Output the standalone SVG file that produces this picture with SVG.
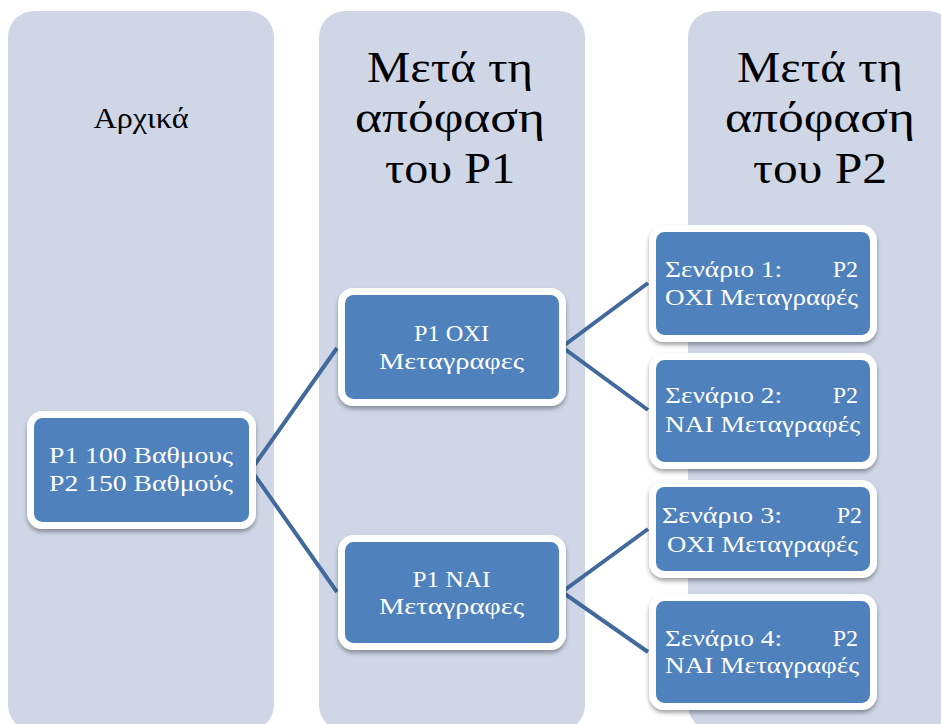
<svg xmlns="http://www.w3.org/2000/svg" width="941" height="724" viewBox="0 0 941 724">
<defs>
<style>
.col{fill:#CFD7E7;}
.box{fill:#4F81BD;stroke:#FFFFFF;stroke-width:7;filter:url(#sh);}
.nt{font-family:"Liberation Serif","DejaVu Serif",serif;font-size:24px;fill:#FFFFFF;}
.ht{font-family:"Liberation Serif","DejaVu Serif",serif;font-size:44px;fill:#000000;text-anchor:middle;}
.h1{font-family:"Liberation Serif","DejaVu Serif",serif;font-size:30px;fill:#000000;text-anchor:middle;}
.c{text-anchor:middle;}
.e{text-anchor:end;}
.ln{fill:none;stroke:#41699C;stroke-width:4;}
</style>
<filter id="sh" x="-10%" y="-10%" width="120%" height="130%">
<feDropShadow dx="0" dy="3" stdDeviation="2" flood-color="#000000" flood-opacity="0.35"/>
</filter>
</defs>
<rect width="941" height="724" fill="#FFFFFF"/>
<g id="columns">
<rect class="col" x="8" y="11" width="266" height="720" rx="26"/>
<rect class="col" x="319" y="11" width="266" height="720" rx="26"/>
<rect class="col" x="688" y="11" width="266" height="720" rx="26"/>
<text class="h1" x="141" y="128" textLength="95" lengthAdjust="spacingAndGlyphs">Αρχικά</text>
<text class="ht" x="450" y="82" textLength="166" lengthAdjust="spacingAndGlyphs">Μετά τη</text>
<text class="ht" x="450" y="132" textLength="190" lengthAdjust="spacingAndGlyphs">απόφαση</text>
<text class="ht" x="450" y="183" textLength="130" lengthAdjust="spacingAndGlyphs">του P1</text>
<text class="ht" x="820" y="82" textLength="166" lengthAdjust="spacingAndGlyphs">Μετά τη</text>
<text class="ht" x="820" y="132" textLength="190" lengthAdjust="spacingAndGlyphs">απόφαση</text>
<text class="ht" x="820" y="183" textLength="134" lengthAdjust="spacingAndGlyphs">του P2</text>
</g>
<g id="connectors">
<polyline class="ln" points="337,348 251,470 337,592"/>
<polyline class="ln" points="648,283 562,347 648,410"/>
<polyline class="ln" points="648,529 562,592 648,652"/>
</g>
<g id="start">
<rect class="box" x="30.5" y="414.5" width="222" height="111" rx="12"/>
<text class="nt c" x="141" y="463" textLength="184" lengthAdjust="spacingAndGlyphs">P1 100 Βαθμους</text>
<text class="nt c" x="141" y="491" textLength="184" lengthAdjust="spacingAndGlyphs">P2 150 Βαθμούς</text>
</g>
<g id="p1-oxi">
<rect class="box" x="341.5" y="291.5" width="221" height="111" rx="12"/>
<text class="nt c" x="451.5" y="341" textLength="75" lengthAdjust="spacingAndGlyphs">P1 ΟΧΙ</text>
<text class="nt c" x="451.5" y="369" textLength="145" lengthAdjust="spacingAndGlyphs">Μεταγραφες</text>
</g>
<g id="p1-nai">
<rect class="box" x="341.5" y="538.5" width="221" height="108" rx="12"/>
<text class="nt c" x="451.5" y="587" textLength="78" lengthAdjust="spacingAndGlyphs">P1 ΝΑΙ</text>
<text class="nt c" x="451.5" y="614" textLength="145" lengthAdjust="spacingAndGlyphs">Μεταγραφες</text>
</g>
<g id="scenario-1">
<rect class="box" x="652.5" y="228.5" width="221" height="110" rx="12"/>
<text class="nt" x="665" y="277" textLength="117" lengthAdjust="spacingAndGlyphs">Σενάριο 1:</text>
<text class="nt e" x="858" y="277">P2</text>
<text class="nt" x="665" y="305" textLength="193" lengthAdjust="spacingAndGlyphs">ΟΧΙ Μεταγραφές</text>
</g>
<g id="scenario-2">
<rect class="box" x="652.5" y="356.5" width="221" height="109" rx="12"/>
<text class="nt" x="665" y="403" textLength="117" lengthAdjust="spacingAndGlyphs">Σενάριο 2:</text>
<text class="nt e" x="858" y="403">P2</text>
<text class="nt" x="665" y="432" textLength="195" lengthAdjust="spacingAndGlyphs">ΝΑΙ Μεταγραφές</text>
</g>
<g id="scenario-3">
<rect class="box" x="652.5" y="483.5" width="221" height="91" rx="12"/>
<text class="nt" x="662" y="523" textLength="120" lengthAdjust="spacingAndGlyphs">Σενάριο 3:</text>
<text class="nt e" x="862" y="523">P2</text>
<text class="nt" x="667" y="552" textLength="191" lengthAdjust="spacingAndGlyphs">ΟΧΙ Μεταγραφές</text>
</g>
<g id="scenario-4">
<rect class="box" x="652.5" y="597.5" width="221" height="109" rx="12"/>
<text class="nt" x="665" y="646" textLength="117" lengthAdjust="spacingAndGlyphs">Σενάριο 4:</text>
<text class="nt e" x="858" y="646">P2</text>
<text class="nt" x="665" y="673" textLength="194" lengthAdjust="spacingAndGlyphs">ΝΑΙ Μεταγραφές</text>
</g>
</svg>
